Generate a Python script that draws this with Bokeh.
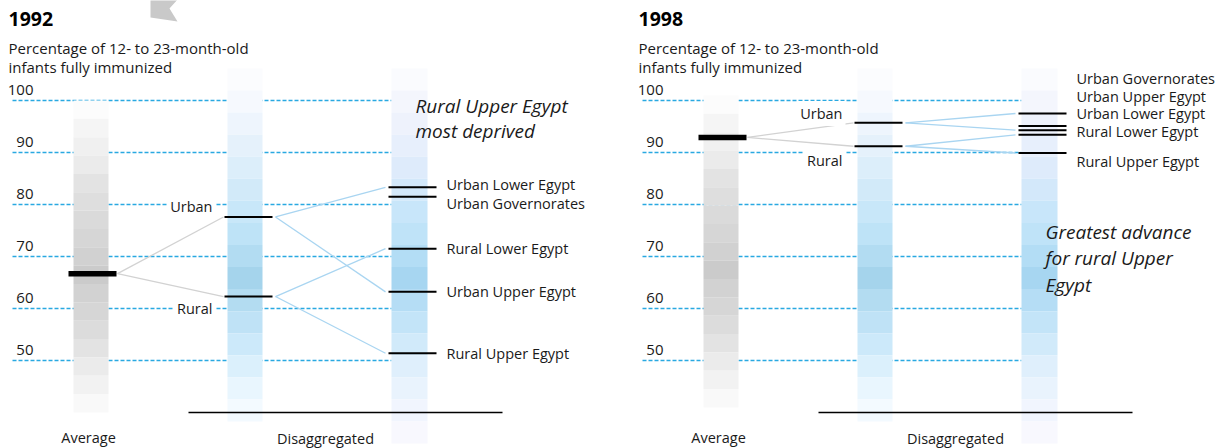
from bokeh.plotting import figure
from bokeh.layouts import row
from bokeh.models import Range1d
from bokeh.core.properties import value
from bokeh.embed import file_html
from bokeh.resources import INLINE

# ---------------- data ----------------
years = ["1992", "1998"]
subtitle_lines = ["Percentage of 12- to 23-month-old", "infants fully immunized"]
ticks = [100, 90, 80, 70, 60, 50]
tick_labels = ["100", "90", "80", "70", "60", "50"]

average = [66.7, 92.9]
urban = [77.6, 95.7]
rural = [62.3, 91.2]

region_names = ["Urban Lower Egypt", "Urban Governorates", "Rural Lower Egypt",
                "Urban Upper Egypt", "Rural Upper Egypt"]
region_parent = ["Urban", None, "Rural", "Urban", "Rural"]
regions_1992 = [83.3, 81.5, 71.5, 63.2, 51.4]
regions_1998 = [97.5, 95.1, 93.4, 94.3, 89.9]
regions = [regions_1992, regions_1998]

annotations = [["Rural Upper Egypt", "most deprived"],
               ["Greatest advance", "for rural Upper", "Egypt"]]

# ---------------- styling / layout ----------------
FONT = value("Open Sans")
TXT = "#1a1a1a"
GRID = "#29a9e1"
PX = 5.2          # pixels per percentage point


def v(py):
    """page pixel row -> percentage value"""
    return 100 - (py - 100) / PX


gray_shades = ["#fcfcfc", "#f5f5f5", "#f0f0f0", "#ebebeb", "#e3e3e3", "#dedede",
               "#dadada", "#d6d6d6", "#d1d1d1", "#cbcbcb", "#d2d2d2", "#d6d6d6",
               "#dcdcdc", "#e3e3e3", "#ebebeb", "#f2f2f2", "#f9f9f9"]
blue1_shades = ["#fbfcfe", "#f6f9fe", "#eef5fd", "#e5f1fb", "#dceefa", "#d2eaf9",
                "#c8e7f9", "#bee3f7", "#b2dcf2", "#a5d4ec", "#b3dcf1", "#bfe2f6",
                "#cce9fa", "#dbf0fc", "#e9f6fe", "#f3faff"]
blue2_shades = ["#fafbfe", "#f4f6fd", "#eef2fc", "#e7effc", "#deebfb", "#d3e8fa",
                "#c8e6fa", "#bfe3f8", "#b3ddf5", "#a7d6f1", "#b5ddf5", "#c3e4f8",
                "#d1eafa", "#dfeffc", "#e9f3fd", "#f1f5fe", "#f8f8fe"]

label_py = [[184, 203, 248, 291, 353], [113, 78, 131, 96, 161]]
area_label_py = [[206, 308], [113, 160]]
annot_py = [[105, 130], [231, 257, 284]]
avg_col_top = [100, 95]


def column(p, xc, w, top, h, shades):
    ys = [v(top + (i + 0.5) * h) for i in range(len(shades))]
    p.rect(x=[xc] * len(shades), y=ys, width=w, height=h / PX,
           fill_color=shades, line_color=None)


def panel(k, width, x_start):
    p = figure(width=width, height=448, x_range=Range1d(x_start, x_start + width),
               y_range=Range1d(v(448), v(0)), output_backend="svg",
               toolbar_location=None, min_border=0, x_axis_location=None,
               y_axis_location=None, outline_line_color=None,
               background_fill_color="white", border_fill_color="white")
    p.grid.visible = False

    # decorative arrow at top of first panel
    if k == 0:
        px = [150, 150, 178, 169, 177]
        py = [17, -2, -2, 8, 21]
        p.patch([x - 8 for x in px], [v(y) for y in py], fill_color="#c9c9c9",
                line_color=None)

    # dashed gridlines
    p.segment(x0=[4] * len(ticks), y0=ticks, x1=[383] * len(ticks), y1=ticks,
              line_color=GRID, line_dash="4 2", line_width=1.3)
    p.text(x=[25] * len(ticks), y=[t + 11 / PX for t in ticks], text=tick_labels,
           text_align="right", text_baseline="middle", text_font=FONT,
           text_font_size="15px", text_color=TXT)

    # gradient columns
    column(p, 82.5, 35, avg_col_top[k], 18.35, gray_shades)
    column(p, 236.5, 35, 68, 22.06, blue1_shades)
    column(p, 401, 36, 68, 22.06, blue2_shades)

    # connectors
    areas = {"Urban": urban[k], "Rural": rural[k]}
    p.segment(x0=[109, 109], y0=[average[k]] * 2, x1=[215, 215],
              y1=[urban[k], rural[k]], line_color="#d2d2d2", line_width=1.3)
    x0, y0, x1, y1 = [], [], [], []
    for name, par, val in zip(region_names, region_parent, regions[k]):
        if par is None:
            continue
        x0.append(267); y0.append(areas[par]); x1.append(377); y1.append(val)
    p.segment(x0=x0, y0=y0, x1=x1, y1=y1, line_color="#a9d5f1", line_width=1.3)

    # markers
    p.segment(x0=[60], y0=[average[k]], x1=[108], y1=[average[k]],
              line_color="black", line_width=5.5)
    p.segment(x0=[216, 216], y0=[urban[k], rural[k]], x1=[264, 264],
              y1=[urban[k], rural[k]], line_color="black", line_width=2)
    n = len(regions[k])
    p.segment(x0=[380] * n, y0=regions[k], x1=[428] * n, y1=regions[k],
              line_color="black", line_width=2)

    # bottom rule
    p.segment(x0=[180], y0=[v(412)], x1=[494], y1=[v(412)], line_color="black",
              line_width=1.5)

    # labels
    p.text(x=[207, 207], y=[v(yy) for yy in area_label_py[k]],
           text=["Urban", "Rural"], text_align="right", text_baseline="middle",
           text_font=FONT, text_font_size="14.5px", text_color=TXT,
           background_fill_color="white", padding=3)
    p.text(x=[438] * n, y=[v(yy) for yy in label_py[k]], text=region_names,
           text_align="left", text_baseline="middle", text_font=FONT,
           text_font_size="14.5px", text_color=TXT)
    p.text(x=[80, 317], y=[v(437), v(438)], text=["Average", "Disaggregated"],
           text_align="center", text_baseline="middle", text_font=FONT,
           text_font_size="14.5px", text_color=TXT)

    # titles
    p.text(x=[0], y=[v(18)], text=[years[k]], text_align="left",
           text_baseline="middle", text_font=FONT, text_font_size="19.5px",
           text_font_style="bold", text_color="black")
    p.text(x=[0, 0], y=[v(47), v(66)], text=subtitle_lines, text_align="left",
           text_baseline="middle", text_font=FONT, text_font_size="15px",
           text_color=TXT)

    # annotation
    p.text(x=[407] * len(annotations[k]), y=[v(yy) for yy in annot_py[k]],
           text=annotations[k], text_align="left", text_baseline="middle",
           text_font=FONT, text_font_size="19px", text_font_style="italic",
           text_color=TXT)
    return p


layout = row(panel(0, 638, -8), panel(1, 586, 0))
open("out.html", "w").write(file_html(layout, INLINE))
